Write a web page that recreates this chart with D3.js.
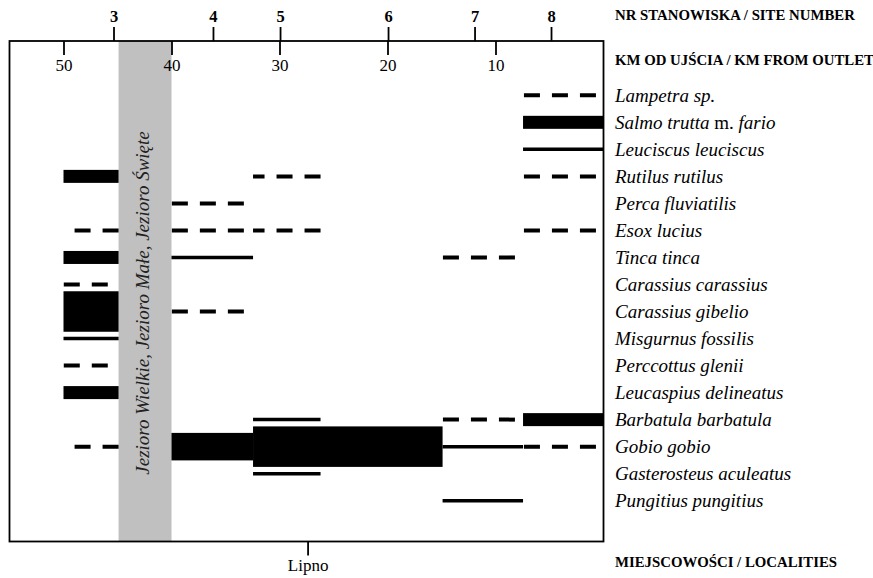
<!DOCTYPE html>
<html>
<head>
<meta charset="utf-8">
<script src="https://cdn.jsdelivr.net/npm/d3@7/dist/d3.min.js"></script>
<style>
  html, body { margin: 0; padding: 0; background: #fff; }
  svg { display: block; }
  text { font-family: "Liberation Serif", "Times New Roman", serif; }
</style>
</head>
<body>
<svg id="chart" width="873" height="578"></svg>
<script>
// ---- data ----
const species = [
  "Lampetra sp.", "Salmo trutta m. fario", "Leuciscus leuciscus", "Rutilus rutilus",
  "Perca fluviatilis", "Esox lucius", "Tinca tinca", "Carassius carassius",
  "Carassius gibelio", "Misgurnus fossilis", "Perccottus glenii", "Leucaspius delineatus",
  "Barbatula barbatula", "Gobio gobio", "Gasterosteus aculeatus", "Pungitius pungitius"
];
const kmTicks = [50, 40, 30, 20, 10];
const siteNumbers = ["3", "4", "5", "6", "7", "8"];
const siteKm = [45.37, 36.16, 29.95, 19.95, 11.94, 4.86];
const localities = ["Lipno"];
const localityKm = [27.4];
const lakes = { label: "Jezioro Wielkie, Jezioro Małe, Jezioro Święte", from: 44.9, to: 40 };
// occurrence records: [species index, km from, km to, abundance class]
// class: "dash" (rare), "line", "s", "m", "l" (most abundant)
const records = [
  [0, 7.45, 0.7, "dash"],
  [1, 7.45, 0, "s"],
  [2, 7.45, 0, "line"],
  [3, 50, 44.9, "s"], [3, 32.45, 26.2, "dash"], [3, 7.45, 0.7, "dash"],
  [4, 40, 33.3, "dash"],
  [5, 49.1, 44.9, "dash"], [5, 40, 33.3, "dash"], [5, 32.45, 26.2, "dash"], [5, 7.45, 0.7, "dash"],
  [6, 50, 44.9, "s"], [6, 40, 32.45, "line"], [6, 14.9, 8.2, "dash"],
  [7, 50, 45.9, "dash"],
  [8, 50, 44.9, "l"], [8, 40, 33.3, "dash"],
  [9, 50, 44.9, "line"],
  [10, 50, 45.9, "dash"],
  [11, 50, 44.9, "s"],
  [12, 32.45, 26.2, "line"], [12, 14.9, 8.2, "dash"], [12, 7.45, 0, "s"],
  [13, 49.1, 44.9, "dash"], [13, 40, 32.45, "m"], [13, 32.45, 14.9, "l"], [13, 14.9, 7.45, "line"], [13, 7.45, 0.7, "dash"],
  [14, 32.45, 26.2, "line"],
  [15, 14.9, 7.45, "line"]
];
const headers = ["NR STANOWISKA / SITE NUMBER", "KM OD UJŚCIA / KM FROM OUTLET", "MIEJSCOWOŚCI / LOCALITIES"];

// ---- layout ----
const serif = '"Liberation Serif", "Times New Roman", serif';
const svg = d3.select("#chart");
const frame = { left: 9.5, right: 603.5, top: 41, bottom: 541.5 };
const x = d3.scaleLinear().domain([55, 0]).range([frame.left, frame.right]);
const y = d3.scalePoint().domain(species).range([95.3, 500.7]);
const thickness = d3.scaleOrdinal().domain(["dash", "line", "s", "m", "l"]).range([4, 3.5, 13, 27.5, 40.5]);

// lakes band
svg.append("rect")
  .attr("x", x(lakes.from)).attr("y", frame.top)
  .attr("width", x(lakes.to) - x(lakes.from)).attr("height", frame.bottom - frame.top)
  .attr("fill", "#c0c0c0");
svg.append("text")
  .attr("transform", `translate(${(x(lakes.from) + x(lakes.to)) / 2 + 4},303) rotate(-90)`)
  .attr("text-anchor", "middle")
  .attr("font-style", "italic")
  .attr("font-size", 19)
  .attr("fill", "#222")
  .text(lakes.label);

// marks
const marks = svg.append("g");
records.forEach(([si, from, to, cls]) => {
  const cy = y(species[si]);
  const h = thickness(cls);
  if (cls === "dash") {
    marks.append("line")
      .attr("x1", x(to)).attr("x2", x(from)).attr("y1", cy).attr("y2", cy)
      .attr("stroke", "#000").attr("stroke-width", h)
      .attr("stroke-dasharray", "16,12");
  } else if (cls === "line") {
    marks.append("line")
      .attr("x1", x(from)).attr("x2", x(to)).attr("y1", cy).attr("y2", cy)
      .attr("stroke", "#000").attr("stroke-width", h);
  } else {
    marks.append("rect")
      .attr("x", x(from)).attr("width", x(to) - x(from))
      .attr("y", cy - h / 2).attr("height", h)
      .attr("fill", "#000");
  }
});

// frame
svg.append("rect")
  .attr("x", frame.left).attr("y", frame.top)
  .attr("width", frame.right - frame.left).attr("height", frame.bottom - frame.top)
  .attr("fill", "none").attr("stroke", "#000").attr("stroke-width", 1.8);

// km axis (ticks down from top border)
const kmAxis = svg.append("g").attr("transform", `translate(0,${frame.top})`)
  .call(d3.axisBottom(x).tickValues(kmTicks).tickSize(14).tickPadding(4).tickFormat(d3.format("d")));
kmAxis.select(".domain").remove();
kmAxis.selectAll("line").attr("stroke-width", 1.8);
kmAxis.selectAll("text").style("font-family", serif).style("font-size", "17px").attr("fill", "#000");

// site axis (ticks up from top border)
const siteAxis = svg.append("g").attr("transform", `translate(0,${frame.top})`)
  .call(d3.axisTop(x).tickValues(siteKm).tickSize(14).tickPadding(5).tickFormat((d, i) => siteNumbers[i]));
siteAxis.select(".domain").remove();
siteAxis.selectAll("line").attr("stroke-width", 1.8);
siteAxis.selectAll("text").style("font-family", serif).style("font-size", "16.5px").style("font-weight", "bold").attr("fill", "#000");

// localities axis
const locAxis = svg.append("g").attr("transform", `translate(0,${frame.bottom})`)
  .call(d3.axisBottom(x).tickValues(localityKm).tickSize(14).tickPadding(3).tickFormat((d, i) => localities[i]));
locAxis.select(".domain").remove();
locAxis.selectAll("line").attr("stroke-width", 1.8);
locAxis.selectAll("text").style("font-family", serif).style("font-size", "17px").attr("fill", "#000");

// species labels
const labels = svg.append("g");
species.forEach(s => {
  const t = labels.append("text")
    .attr("x", 615).attr("y", y(s))
    .attr("dominant-baseline", "central")
    .attr("font-size", 19).attr("font-style", "italic").attr("fill", "#000");
  if (s === "Salmo trutta m. fario") {
    t.append("tspan").text("Salmo trutta ");
    t.append("tspan").attr("font-style", "normal").text("m.");
    t.append("tspan").text(" fario");
  } else {
    t.text(s);
  }
});

// headers
const headerY = [15, 60, 562];
headers.forEach((h, i) => {
  svg.append("text")
    .attr("x", 615).attr("y", headerY[i])
    .attr("dominant-baseline", "central")
    .attr("font-size", 14.8).attr("font-weight", "bold").attr("fill", "#000")
    .text(h);
});
</script>
</body>
</html>
